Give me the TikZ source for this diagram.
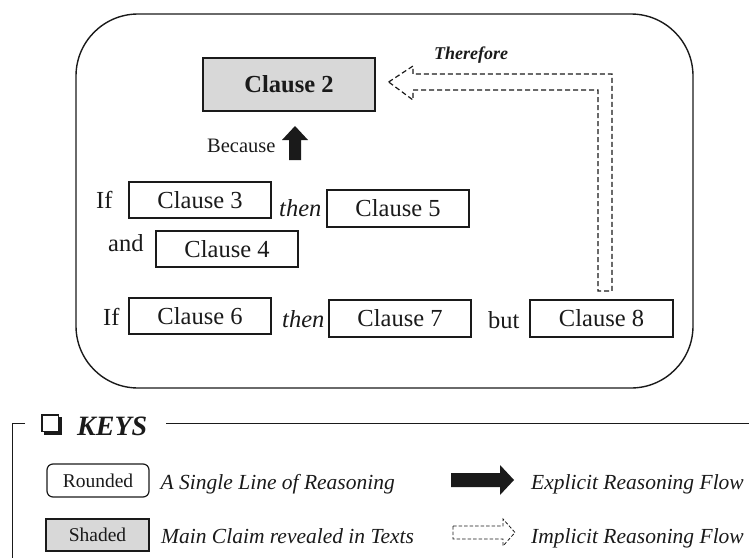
\documentclass[tikz,border=0pt]{standalone}
\usepackage{fontspec}
\usetikzlibrary{calc}
\setmainfont{Liberation Serif}
\definecolor{shade}{HTML}{D8D8D8}
\definecolor{ink}{HTML}{1A1A1A}
\begin{document}
\begin{tikzpicture}[x=1pt,y=-1pt,
  clause/.style={draw=ink, line width=1.3pt, minimum width=142pt, minimum height=36pt,
    inner sep=0pt, text=ink, font=\fontsize{24.5}{29}\selectfont},
  word/.style={anchor=base west, inner sep=0pt, text=ink, font=\fontsize{24.5}{29}\selectfont},
  itword/.style={word, font=\itshape\fontsize{24.5}{29}\selectfont},
  keytext/.style={anchor=base west, inner sep=0pt, text=ink, font=\itshape\fontsize{21.5}{25}\selectfont},
  implicit/.style={draw=ink, line width=1.2pt, dash pattern=on 5pt off 3pt},
  keyline/.style={draw=ink, line width=1pt}]
\useasboundingbox (0,0) rectangle (749,557);

% outer frame
\draw[draw=ink, line width=1.4pt, rounded corners=62pt] (76,14) rectangle (693,388);

% clauses
\node[clause, fill=shade, minimum width=172pt, minimum height=53pt,
  font=\bfseries\fontsize{24.5}{29}\selectfont] (c2) at (289,84.5) {Clause 2};
\node[clause] (c3) at (200,200) {Clause 3};
\node[clause] (c4) at (227,249) {Clause 4};
\node[clause, minimum height=37pt] (c5) at (398,208.5) {Clause 5};
\node[clause] (c6) at (200,316) {Clause 6};
\node[clause, minimum height=37pt] (c7) at (400,318.5) {Clause 7};
\node[clause, minimum width=143pt, minimum height=37pt] (c8) at (601.5,318.5) {Clause 8};

% words
\node[word] (if1) at (96,208.3) {If};
\node[word] (and) at (108,251.7) {and};
\node[itword] (then1) at (279,216.5) {then};
\node[word] (if2) at (103,325) {If};
\node[itword] (then2) at (282,327.7) {then};
\node[word] (but) at (488,328) {but};
\node[word, font=\fontsize{20.5}{24}\selectfont] (because) at (207,152) {Because};
\node[word, font=\bfseries\itshape\fontsize{18}{22}\selectfont] (therefore) at (434,59) {Therefore};

% explicit "because" arrow
\coordinate (ba) at (295,160);
\fill[ink] (ba) ++(-6,0) -- ++(0,-20) -- ++(-7,0) -- (295,126) -- ++(13,14) -- ++(-7,0) -- ++(0,20) -- cycle;

% implicit "therefore" arrow from clause 8 to clause 2
\coordinate (tip) at ($(c2.east)+(13,-2.5)$);
\draw[implicit] (tip) -- (413,66) -- (413,74) -- (612,74) -- (612,291)
  -- (598,291) -- (598,90) -- (413,90) -- (413,100) -- cycle;

% keys frame
\draw[keyline] (25,423) -- (12,423) -- (12,560);
\draw[keyline] (166,423) -- (752,423);
\fill[ink] (43.5,416.5) rectangle (61.5,434.5);
\draw[draw=ink, fill=white, line width=1.2pt] (42,415) rectangle (58.5,431.5);
\node[anchor=base west, inner sep=0pt, text=ink, font=\bfseries\itshape\fontsize{28}{32}\selectfont] (keys) at (77,435) {KEYS};

% key items
\node[draw=ink, rounded corners=6pt, line width=1.2pt, minimum width=102pt, minimum height=33pt,
  inner sep=0pt, text=ink, font=\fontsize{19.5}{23}\selectfont] (rk) at (98,480.5) {Rounded};
\node[draw=ink, fill=shade, line width=1.3pt, minimum width=103pt, minimum height=32pt,
  inner sep=0pt, text=ink, font=\fontsize{19.5}{23}\selectfont] (sk) at (97.5,535) {Shaded};
\node[keytext] (k1) at (160.5,489) {A Single Line of Reasoning};
\node[keytext] (k2) at (161,543.3) {Main Claim revealed in Texts};
\node[keytext] (k3) at (531,489) {Explicit Reasoning Flow};
\node[keytext] (k4) at (531,543.3) {Implicit Reasoning Flow};

\fill[ink] (451,473) -- (500,473) -- (500,465) -- (514,480) -- (500,495) -- (500,487) -- (451,487) -- cycle;
\draw[draw=ink, line width=0.8pt, dash pattern=on 3.5pt off 2pt]
  (453,526) -- (503,526) -- (503,519) -- (515,532.5) -- (503,546) -- (503,539) -- (453,539) -- cycle;
\end{tikzpicture}
\end{document}
